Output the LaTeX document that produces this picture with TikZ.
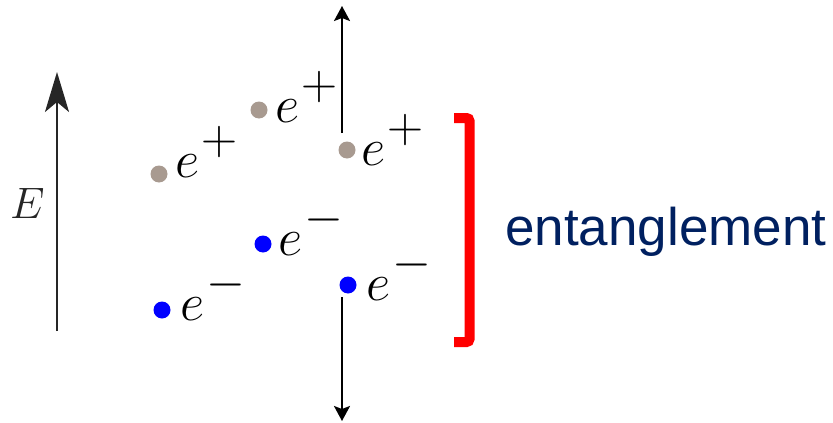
\RequirePackage{fix-cm}
\documentclass[tikz,border=0pt]{standalone}
\usepackage{fontspec}
\newfontfamily\entfont{Liberation Sans}
\usetikzlibrary{arrows.meta}
\newcommand\chargesup[1]{^{\kern2.5pt\raisebox{3pt}{\fontsize{50}{54}\selectfont$#1$}}}
\definecolor{posgray}{RGB}{168,154,144}
\definecolor{entnavy}{RGB}{0,32,96}
\begin{document}
\begin{tikzpicture}[x=1pt,y=-1pt,
  dotp/.style={circle,fill=posgray,inner sep=0pt,minimum size=17pt},
  dotn/.style={circle,fill=blue,inner sep=0pt,minimum size=17pt},
  lab/.style={anchor=base west,inner sep=0pt,font=\fontsize{53}{60}\selectfont},
  spinarrow/.style={line width=2.2pt,-{Stealth[length=15pt,width=16pt,inset=3pt]}},
  earrow/.style={line width=2.2pt,draw=black!85,-{Stealth[length=40pt,width=24pt,inset=10pt]}}]
\useasboundingbox (0,0) rectangle (833,423);
% energy axis
\coordinate (ebot) at (57,331);
\coordinate (etop) at (57,72);
\draw[earrow] (ebot) -- (etop);
\node[anchor=base west,inner sep=0pt,font=\fontsize{44}{52}\selectfont,text=black!85] (E) at (10,218) {$E$};
% positrons
\node[dotp] (p1) at (159,174) {};
\node[dotp] (p2) at (259,110) {};
\node[dotp] (p3) at (347,150) {};
\node[lab] (lp1) at (175,177) {$e\chargesup{+}$};
\node[lab] (lp2) at (275,122) {$e\chargesup{+}$};
\node[lab] (lp3) at (361,165) {$e\chargesup{+}$};
% electrons
\node[dotn] (n1) at (162,310) {};
\node[dotn] (n2) at (263,244) {};
\node[dotn] (n3) at (348,285) {};
\node[lab] (ln1) at (180,320) {$e\chargesup{-}$};
\node[lab] (ln2) at (278,255) {$e\chargesup{-}$};
\node[lab] (ln3) at (366,300) {$e\chargesup{-}$};
% spin arrows
\coordinate (upbot) at (342,133);
\coordinate (uptop) at (342,6);
\draw[spinarrow] (upbot) -- (uptop);
\coordinate (dntop) at (342,297);
\coordinate (dnbot) at (342,421);
\draw[spinarrow] (dntop) -- (dnbot);
% bracket
\draw[red,line width=10pt,rounded corners=3pt] (454,118) -- (469.5,118) -- (469.5,342) -- (454,342);
\node[anchor=base west,inner sep=0pt,text=entnavy,font=\entfont\fontsize{53}{60}\selectfont] (ent) at (505,245) {entanglement};
\end{tikzpicture}
\end{document}
